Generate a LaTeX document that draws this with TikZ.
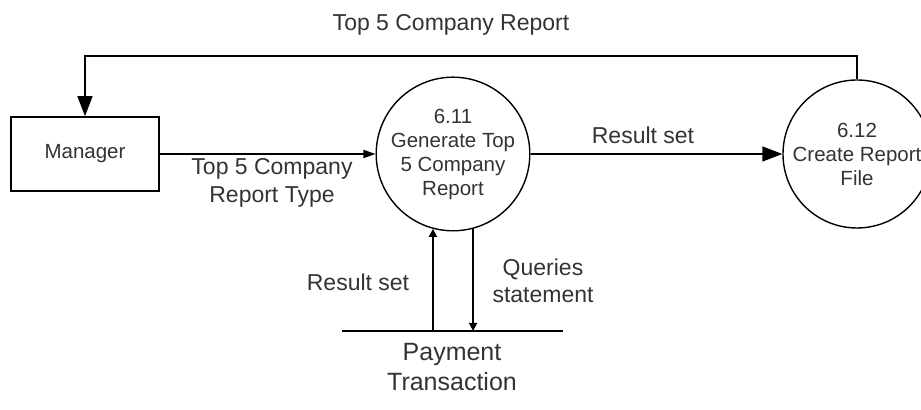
\documentclass[tikz,border=0pt]{standalone}
\usepackage{fontspec}
\setmainfont{Liberation Sans}
\usetikzlibrary{arrows.meta,positioning}

\begin{document}
\begin{tikzpicture}[x=0.5pt, y=0.5pt,
		entity/.style={draw, line width=0.8pt, minimum width=74pt, minimum height=37pt, font=\fontsize{10.25}{12}\selectfont},
		process/.style={draw, circle, line width=0.7pt, minimum size=74pt, inner sep=0pt, align=center, font=\fontsize{10.25}{12}\selectfont},
		flowlabel/.style={align=center, font=\fontsize{11.5}{13.75}\selectfont},
		storelabel/.style={align=center, font=\fontsize{12.5}{15}\selectfont},
		flow/.style={line width=0.8pt},
		bigtip/.style={-{Triangle[length=10pt, width=7.5pt]}},
		midtip/.style={-{Triangle[length=6pt, width=4pt]}},
		smalltip/.style={-{Triangle[length=4pt, width=4pt]}}]
		\useasboundingbox (0,0) rectangle (921,410);

		\definecolor{ink}{rgb}{0.2, 0.2, 0.2}

		% entity and processes
		\node[entity, text=ink] (manager) at (85,256) {Manager};
		\node[process, text=ink] (p611) at (453,256) {6.11\\Generate Top\\5 Company\\Report};
		\node[process, text=ink] (p612) at (857,256) {6.12\\Create Report\\File};

		% data store
		\coordinate (storeW) at (342,79);
		\coordinate (storeE) at (563,79);
		\draw[flow] (storeW) -- (storeE);
		\node[storelabel, text=ink] (store) at (452,43) {Payment\\Transaction};

		% flows
		\draw[flow, bigtip] (p612.north) -- ++(0,23) -| (manager.north);
		\draw[flow, midtip] (manager.east) -- (p611.west);
		\draw[flow, bigtip] (p611.east) -- (p612.west);
		\draw[flow, smalltip] (p611.255 |- storeW) -- (p611.255);
		\draw[flow, smalltip] (p611.285) -- (p611.285 |- storeW);

		% flow labels
		\node[flowlabel, text=ink] (reportlabel) at (451,385) {Top 5 Company Report};
		\node[flowlabel, text=ink] (typelabel) at (272,227) {Top 5 Company\\Report Type};
		\node[flowlabel, text=ink] (resultlabel) at (643,275) {Result set};
		\node[flowlabel, text=ink] (storeresultlabel) at (358,128) {Result set};
		\node[flowlabel, text=ink] (querylabel) at (543,129) {Queries\\statement};
	\end{tikzpicture}
\end{document}
